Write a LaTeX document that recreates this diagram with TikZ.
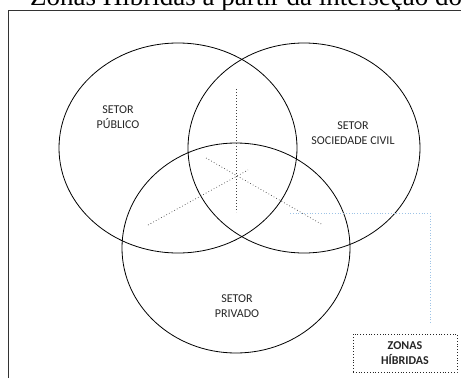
\documentclass[tikz,border=0pt]{standalone}
\usepackage{fontspec}
\setmainfont{Liberation Serif}
\newfontfamily\labelfont{Carlito}
\usetikzlibrary{positioning}
\definecolor{zonablue}{RGB}{157,195,230}
\tikzset{
  setorlabel/.style={font=\labelfont\fontsize{12}{14.5}\selectfont,align=center,text=black!85},
  eixo/.style={black!75,line width=0.7pt,dash pattern=on 0.7pt off 2.3pt},
  hibrida/.style={zonablue,line width=0.8pt,dash pattern=on 0.8pt off 2pt},
}
\begin{document}
\begin{tikzpicture}[x=1pt,y=-1pt]
        \useasboundingbox (0,0) rectangle (461,378);
        %% title and frame
        \node[anchor=base west,inner sep=0pt,font=\fontsize{27}{30}\selectfont] (titulo) at (30,5) {Zonas Híbridas a partir da interseção do};
        \draw[black!80,line width=1pt] (8,378) -- (8,10) -- (461,10);
        %% the three sectors
        \draw[line width=0.8pt] (178,148) ellipse [x radius=119pt, y radius=105pt];
        \draw[line width=0.8pt] (304,148) ellipse [x radius=116pt, y radius=105pt];
        \draw[line width=0.8pt] (236,248) ellipse [x radius=114pt, y radius=105pt];
        \node[setorlabel] (publico) at (118,117) {SETOR\\PÚBLICO};
        \node[setorlabel] (civil) at (353,133) {SETOR\\SOCIEDADE CIVIL};
        \node[setorlabel] (privado) at (237,306) {SETOR\\PRIVADO};
        %% dotted axes through the middle
        \draw[eixo] (236,89) -- (236,212);
        \draw[eixo] (206,158) -- (323,225);
        \draw[eixo] (148,225) -- (248,170);
        %% hybrid zones box
        \node[draw,black!85,line width=0.8pt,dash pattern=on 0.8pt off 2pt,minimum width=104pt,minimum height=38pt,
              font=\labelfont\bfseries\fontsize{12}{15}\selectfont,align=center] (zonas) at (405,353) {ZONAS\\HÍBRIDAS};
        \coordinate (zc) at (290,213);
        \draw[hibrida] (zc) -| ([xshift=25pt,yshift=9pt]zonas.north);
    \end{tikzpicture}
\end{document}
